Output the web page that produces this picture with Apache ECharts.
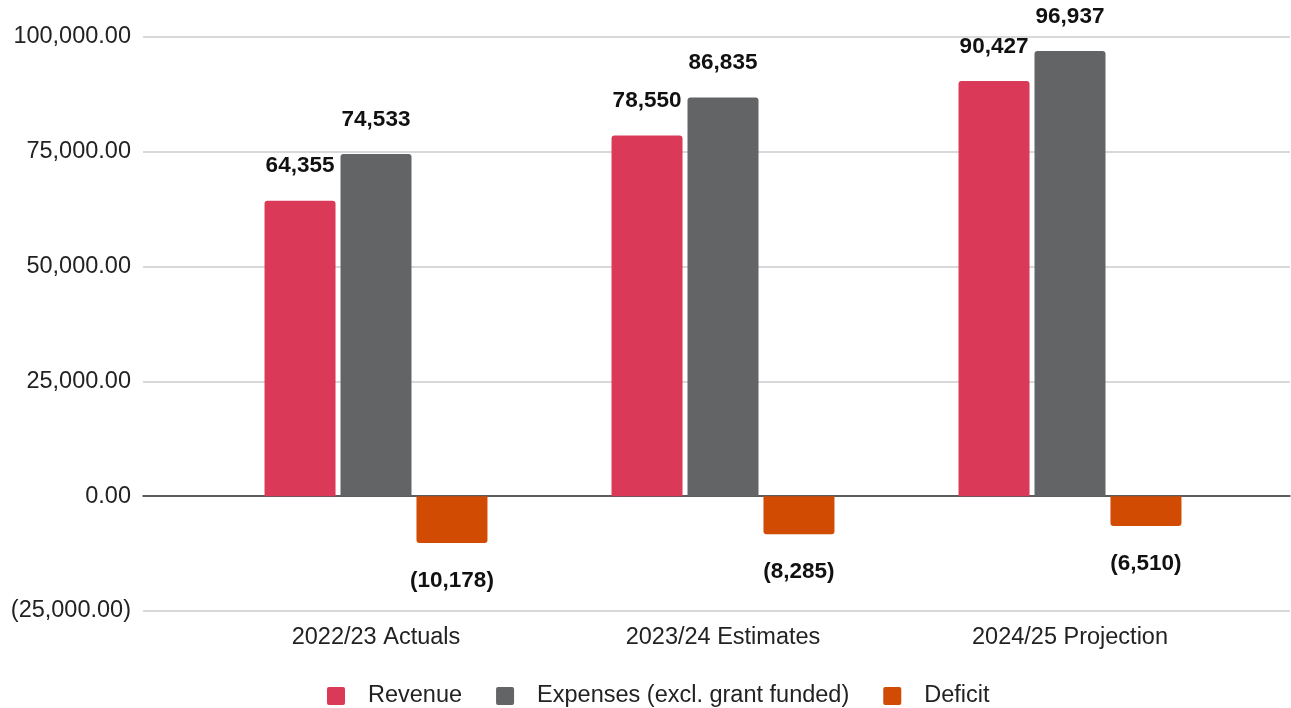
<!DOCTYPE html>
<html>
<head>
<meta charset="utf-8">
<script src="https://cdn.jsdelivr.net/npm/echarts@6/dist/echarts.min.js"></script>
<style>
html,body{margin:0;padding:0;background:#fff;}
#c{width:1291px;height:708px;}
</style>
</head>
<body>
<div id="c"></div>
<script>
const categories = ['2022/23 Actuals', '2023/24 Estimates', '2024/25 Projection'];
const seriesNames = ['Revenue', 'Expenses (excl. grant funded)', 'Deficit'];
const revenue = [64355, 78550, 90427];
const expenses = [74533, 86835, 96937];
const deficit = [-10178, -8285, -6510];
const yTicks = [-25000, 0, 25000, 50000, 75000, 100000];

const colors = ['#DA3A57', '#636466', '#D14B03'];
const FONT = 'Liberation Sans, Arial, sans-serif';

function fmtInt(v) {
  const s = Math.abs(Math.round(v)).toLocaleString('en-US');
  return v < 0 ? '(' + s + ')' : s;
}
function fmtAxis(v) {
  const s = Math.abs(v).toLocaleString('en-US', {minimumFractionDigits: 2, maximumFractionDigits: 2});
  return v < 0 ? '(' + s + ')' : s;
}

const chart = echarts.init(document.getElementById('c'));
const yMin = yTicks[0], yMax = yTicks[yTicks.length - 1], yInt = yTicks[1] - yTicks[0];

function labelFor(pos, dist) {
  return {
    show: true,
    position: pos,
    distance: dist,
    formatter: p => fmtInt(p.value),
    fontFamily: FONT,
    fontSize: 22.5,
    fontWeight: 'bold',
    color: '#111'
  };
}

chart.setOption({
  animation: false,
  textStyle: {fontFamily: FONT},
  grid: [
    {left: 143, right: 1, top: 37, bottom: 97},
    {left: 202.5, right: 47.5, top: 37, bottom: 97}
  ],
  legend: {
    data: seriesNames,
    left: 322,
    top: 679,
    itemWidth: 18,
    itemHeight: 18,
    itemGap: 34,
    icon: 'path://M2,0 L16,0 Q18,0 18,2 L18,16 Q18,18 16,18 L2,18 Q0,18 0,16 L0,2 Q0,0 2,0 Z',
    textStyle: {fontFamily: FONT, fontSize: 23.5, color: '#222', padding: [0, 0, 0, 18]}
  },
  xAxis: [
    {
      gridIndex: 0, type: 'category', data: categories,
      axisLabel: {show: false}, axisTick: {show: false},
      axisLine: {show: true, onZero: true, lineStyle: {color: '#333', width: 1.5}}
    },
    {
      gridIndex: 1, type: 'category', data: categories,
      axisLine: {show: false, onZero: false}, axisTick: {show: false},
      axisLabel: {fontFamily: FONT, fontSize: 23.5, color: '#222', margin: 15}
    }
  ],
  yAxis: [
    {
      gridIndex: 0, type: 'value', min: yMin, max: yMax, interval: yInt,
      axisLine: {show: false}, axisTick: {show: false},
      splitLine: {lineStyle: {color: '#cccccc', width: 1.5}},
      axisLabel: {fontFamily: FONT, fontSize: 23.5, color: '#222', margin: 12, formatter: fmtAxis}
    },
    {
      gridIndex: 1, type: 'value', min: yMin, max: yMax, interval: yInt,
      show: false, splitLine: {show: false}
    }
  ],
  series: [
    {
      name: seriesNames[0], type: 'bar', xAxisIndex: 1, yAxisIndex: 1,
      data: revenue, barWidth: 71, barGap: '7%',
      itemStyle: {color: colors[0], borderRadius: [3, 3, 0, 0]},
      label: labelFor('top', 23)
    },
    {
      name: seriesNames[1], type: 'bar', xAxisIndex: 1, yAxisIndex: 1,
      data: expenses, barWidth: 71, barGap: '7%',
      itemStyle: {color: colors[1], borderRadius: [3, 3, 0, 0]},
      label: labelFor('top', 23)
    },
    {
      name: seriesNames[2], type: 'bar', xAxisIndex: 1, yAxisIndex: 1,
      data: deficit, barWidth: 71, barGap: '7%',
      itemStyle: {color: colors[2], borderRadius: [0, 0, 3, 3]},
      label: labelFor('bottom', 26)
    }
  ]
});
</script>
</body>
</html>
